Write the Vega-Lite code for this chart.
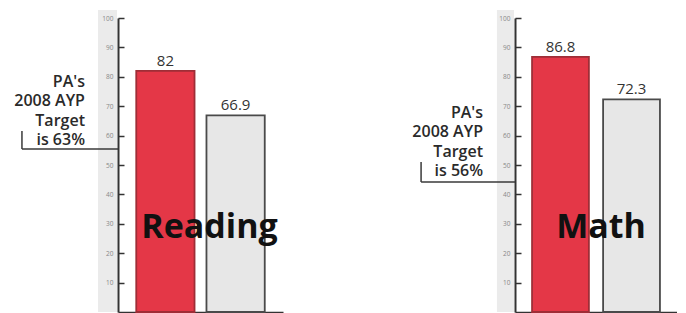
{
  "$schema": "https://vega.github.io/schema/vega-lite/v6.json",
  "padding": {"left": 0, "top": 10, "right": 0, "bottom": 0},
  "bounds": "flush",
  "spacing": 20,
  "config": {"view": {"stroke": null}, "font": "Open Sans"},
  "datasets": {
    "reading": [
      {"group": "School", "value": 82, "subject": "Reading"},
      {"group": "State", "value": 66.9, "subject": "Reading"}
    ],
    "math": [
      {"group": "School", "value": 86.8, "subject": "Math"},
      {"group": "State", "value": 72.3, "subject": "Math"}
    ],
    "readingTarget": [
      {"subject": "Reading", "target": 63, "level": 55.4, "note": "PA's\n2008 AYP\nTarget\nis 63%"}
    ],
    "mathTarget": [
      {"subject": "Math", "target": 56, "level": 44.2, "note": "PA's\n2008 AYP\nTarget\nis 56%"}
    ]
  },
  "hconcat": [
    {
      "width": 98,
      "height": 294,
      "data": {"name": "readingTarget"},
      "layer": [
        {
          "mark": {"type": "rect", "color": "#ebebeb"},
          "encoding": {
            "x": {"datum": 1.0, "type": "quantitative", "scale": {"domain": [0, 1], "nice": false, "zero": false}, "axis": null},
            "x2": {"datum": 1.194},
            "y": {"datum": 0, "type": "quantitative", "scale": {"domain": [0, 100], "nice": false}, "axis": null},
            "y2": {"datum": 102.7}
          }
        },
        {
          "mark": {"type": "rule", "color": "#3a3a3a", "strokeWidth": 1.5},
          "encoding": {
            "x": {"datum": 0.224, "type": "quantitative"},
            "x2": {"datum": 1.204},
            "y": {"field": "level", "type": "quantitative"}
          }
        },
        {
          "mark": {"type": "rule", "color": "#3a3a3a", "strokeWidth": 1.5, "y2Offset": -18},
          "encoding": {
            "x": {"datum": 0.224, "type": "quantitative"},
            "y": {"field": "level", "type": "quantitative"},
            "y2": {"field": "level"}
          }
        },
        {
          "mark": {"type": "text", "align": "right", "baseline": "alphabetic", "lineBreak": "\n", "lineHeight": 19.3, "fontSize": 16, "fontWeight": 600, "color": "#2a2a2a", "dy": -62},
          "encoding": {
            "x": {"datum": 0.867, "type": "quantitative"},
            "y": {"field": "level", "type": "quantitative"},
            "text": {"field": "note"}
          }
        }
      ]
    },
    {
      "width": 165,
      "height": 294,
      "data": {"name": "reading"},
      "encoding": {
        "x": {"field": "group", "type": "nominal", "scale": {"paddingInner": 0.17, "paddingOuter": 0.26},
              "axis": {"labels": false, "ticks": false, "title": null, "domainColor": "#333", "domainWidth": 1.5}},
        "y": {"field": "value", "type": "quantitative", "scale": {"domain": [0, 100], "nice": false},
              "axis": {"values": [10, 20, 30, 40, 50, 60, 70, 80, 90, 100], "title": null, "grid": false,
                       "labelFontSize": 6.5, "labelColor": "#888", "tickColor": "#333", "tickSize": -6, "tickWidth": 1.5,
                       "labelPadding": 11, "domainColor": "#333", "domainWidth": 2, "minExtent": 20, "maxExtent": 20}}
      },
      "layer": [
        {
          "mark": {"type": "bar", "strokeWidth": 1.8},
          "encoding": {
            "color": {"field": "group", "type": "nominal", "scale": {"domain": ["School", "State"], "range": ["#e43747", "#e7e7e7"]}, "legend": null},
            "stroke": {"field": "group", "type": "nominal", "scale": {"domain": ["School", "State"], "range": ["#9e2e37", "#4a4a4a"]}, "legend": null}
          }
        },
        {
          "mark": {"type": "text", "fontSize": 15, "color": "#333", "dy": -5, "baseline": "alphabetic"},
          "encoding": {"text": {"field": "value", "type": "quantitative"}}
        },
        {
          "transform": [{"filter": "datum.group === 'State'"}],
          "mark": {"type": "text", "fontSize": 34, "fontWeight": "bold", "color": "#111", "align": "center", "baseline": "alphabetic", "dx": 3},
          "encoding": {
            "x": {"field": "group", "type": "nominal", "bandPosition": 0},
            "y": {"datum": 25.2, "type": "quantitative"},
            "text": {"field": "subject", "type": "nominal"}
          }
        }
      ]
    },
    {
      "width": 192,
      "height": 294,
      "data": {"name": "mathTarget"},
      "layer": [
        {
          "mark": {"type": "rect", "color": "#ebebeb"},
          "encoding": {
            "x": {"datum": 1.01, "type": "quantitative", "scale": {"domain": [0, 1], "nice": false, "zero": false}, "axis": null},
            "x2": {"datum": 1.099},
            "y": {"datum": 0, "type": "quantitative", "scale": {"domain": [0, 100], "nice": false}, "axis": null},
            "y2": {"datum": 102.7}
          }
        },
        {
          "mark": {"type": "rule", "color": "#3a3a3a", "strokeWidth": 1.5},
          "encoding": {
            "x": {"datum": 0.615, "type": "quantitative"},
            "x2": {"datum": 1.104},
            "y": {"field": "level", "type": "quantitative"}
          }
        },
        {
          "mark": {"type": "rule", "color": "#3a3a3a", "strokeWidth": 1.5, "y2Offset": -20},
          "encoding": {
            "x": {"datum": 0.615, "type": "quantitative"},
            "y": {"field": "level", "type": "quantitative"},
            "y2": {"field": "level"}
          }
        },
        {
          "mark": {"type": "text", "align": "right", "baseline": "alphabetic", "lineBreak": "\n", "lineHeight": 19.3, "fontSize": 16, "fontWeight": 600, "color": "#2a2a2a", "dy": -64},
          "encoding": {
            "x": {"datum": 0.9375, "type": "quantitative"},
            "y": {"field": "level", "type": "quantitative"},
            "text": {"field": "note"}
          }
        }
      ]
    },
    {
      "width": 162,
      "height": 294,
      "data": {"name": "math"},
      "encoding": {
        "x": {"field": "group", "type": "nominal", "scale": {"paddingInner": 0.2, "paddingOuter": 0.24},
              "axis": {"labels": false, "ticks": false, "title": null, "domainColor": "#333", "domainWidth": 1.5}},
        "y": {"field": "value", "type": "quantitative", "scale": {"domain": [0, 100], "nice": false},
              "axis": {"values": [10, 20, 30, 40, 50, 60, 70, 80, 90, 100], "title": null, "grid": false,
                       "labelFontSize": 6.5, "labelColor": "#888", "tickColor": "#333", "tickSize": -6, "tickWidth": 1.5,
                       "labelPadding": 11, "domainColor": "#333", "domainWidth": 2, "minExtent": 20, "maxExtent": 20}}
      },
      "layer": [
        {
          "mark": {"type": "bar", "strokeWidth": 1.8},
          "encoding": {
            "color": {"field": "group", "type": "nominal", "scale": {"domain": ["School", "State"], "range": ["#e43747", "#e7e7e7"]}, "legend": null},
            "stroke": {"field": "group", "type": "nominal", "scale": {"domain": ["School", "State"], "range": ["#9e2e37", "#4a4a4a"]}, "legend": null}
          }
        },
        {
          "mark": {"type": "text", "fontSize": 15, "color": "#333", "dy": -5, "baseline": "alphabetic"},
          "encoding": {"text": {"field": "value", "type": "quantitative"}}
        },
        {
          "transform": [{"filter": "datum.group === 'State'"}],
          "mark": {"type": "text", "fontSize": 34, "fontWeight": "bold", "color": "#111", "align": "center", "baseline": "alphabetic", "dx": -2},
          "encoding": {
            "x": {"field": "group", "type": "nominal", "bandPosition": 0},
            "y": {"datum": 25.2, "type": "quantitative"},
            "text": {"field": "subject", "type": "nominal"}
          }
        }
      ]
    }
  ],
  "resolve": {"scale": {"color": "independent", "stroke": "independent", "x": "independent", "y": "independent"}}
}
